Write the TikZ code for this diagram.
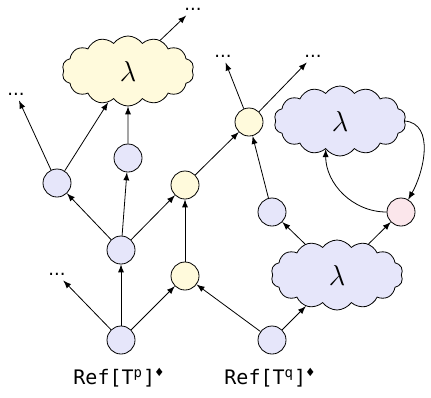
\documentclass[tikz,border=0pt]{standalone}
\usepackage{fontspec}
\usetikzlibrary{shapes.symbols}
\newfontfamily\refmono{DejaVu Sans Mono}
\newfontfamily\dotfont{DejaVu Sans}
\definecolor{nblue}{RGB}{230,230,250}
\definecolor{nyellow}{RGB}{255,250,220}
\definecolor{npink}{RGB}{251,230,235}

\begin{document}
\begin{tikzpicture}[auto, >=latex, x=0.5pt, y=-0.5pt]
	\tikzstyle{vtx} = [draw, circle, minimum size=14pt, inner sep=0pt]
	\tikzstyle{lam} = [draw, cloud, cloud puffs=14, cloud puff arc=110, aspect=2, minimum width=66pt, minimum height=35pt, inner sep=0pt, font=\Large]
	\tikzstyle{more} = [inner sep=2.5pt, font=\dotfont\small]
	\useasboundingbox (0,0) rectangle (431,397);

	% left tree
	\node [vtx, fill=nblue] (rootp) at (121,340) {};
	\node [vtx, fill=nblue] (midp) at (121,250) {};
	\node [vtx, fill=nblue] (leftp) at (57,183) {};
	\node [vtx, fill=nblue] (upp) at (128,158) {};
	\node [lam, fill=nyellow] (lamp) at (128,71) {$\lambda$};
	\node [vtx, fill=nyellow] (ylow) at (185,276) {};
	\node [vtx, fill=nyellow] (yup) at (185,185) {};
	\node [vtx, fill=nyellow] (ytop) at (249,122) {};

	% right tree
	\node [vtx, fill=nblue] (rootq) at (272,340) {};
	\node [lam, fill=nblue] (lamq) at (337,275) {$\lambda$};
	\node [vtx, fill=nblue] (rightq) at (272,212) {};
	\node [vtx, fill=npink] (loop) at (401,212) {};
	\node [lam, fill=nblue] (lamr) at (340,121) {$\lambda$};

	% elided parts
	\node [more] (d-top) at (193,9) {...};
	\node [more] (d-left) at (16,94) {...};
	\node [more] (d-low) at (57,274) {...};
	\node [more] (d-mid) at (223,56) {...};
	\node [more] (d-right) at (313,56) {...};

	% labels
	\node (refp) at (119,378) {\refmono Ref[T\textsuperscript{p}]\textsuperscript{♦}};
	\node (refq) at (270,378) {\refmono Ref[T\textsuperscript{q}]\textsuperscript{♦}};

	\draw [->] (rootp) -- (midp);
	\draw [->] (rootp) -- (ylow);
	\draw [->] (rootp) -- (d-low);
	\draw [->] (midp) -- (leftp);
	\draw [->] (midp) -- (upp);
	\draw [->] (midp) -- (yup);
	\draw [->] (leftp) -- (d-left);
	\draw [->] (leftp) -- (lamp);
	\draw [->] (upp) -- (lamp);
	\draw [->] (lamp) -- (d-top);
	\draw [->] (ylow) -- (yup);
	\draw [->] (yup) -- (ytop);
	\draw [->] (ytop) -- (d-mid);
	\draw [->] (ytop) -- (d-right);
	\draw [->] (rootq) -- (ylow);
	\draw [->] (rootq) -- (lamq);
	\draw [->] (lamq) -- (rightq);
	\draw [->] (lamq) -- (loop);
	\draw [->] (rightq) -- (ytop);
	\draw [->] (lamr.east) to[out=-5, in=60] (loop);
	\draw [->] (loop) to[out=180, in=-90] (lamr.243);
\end{tikzpicture}
\end{document}
